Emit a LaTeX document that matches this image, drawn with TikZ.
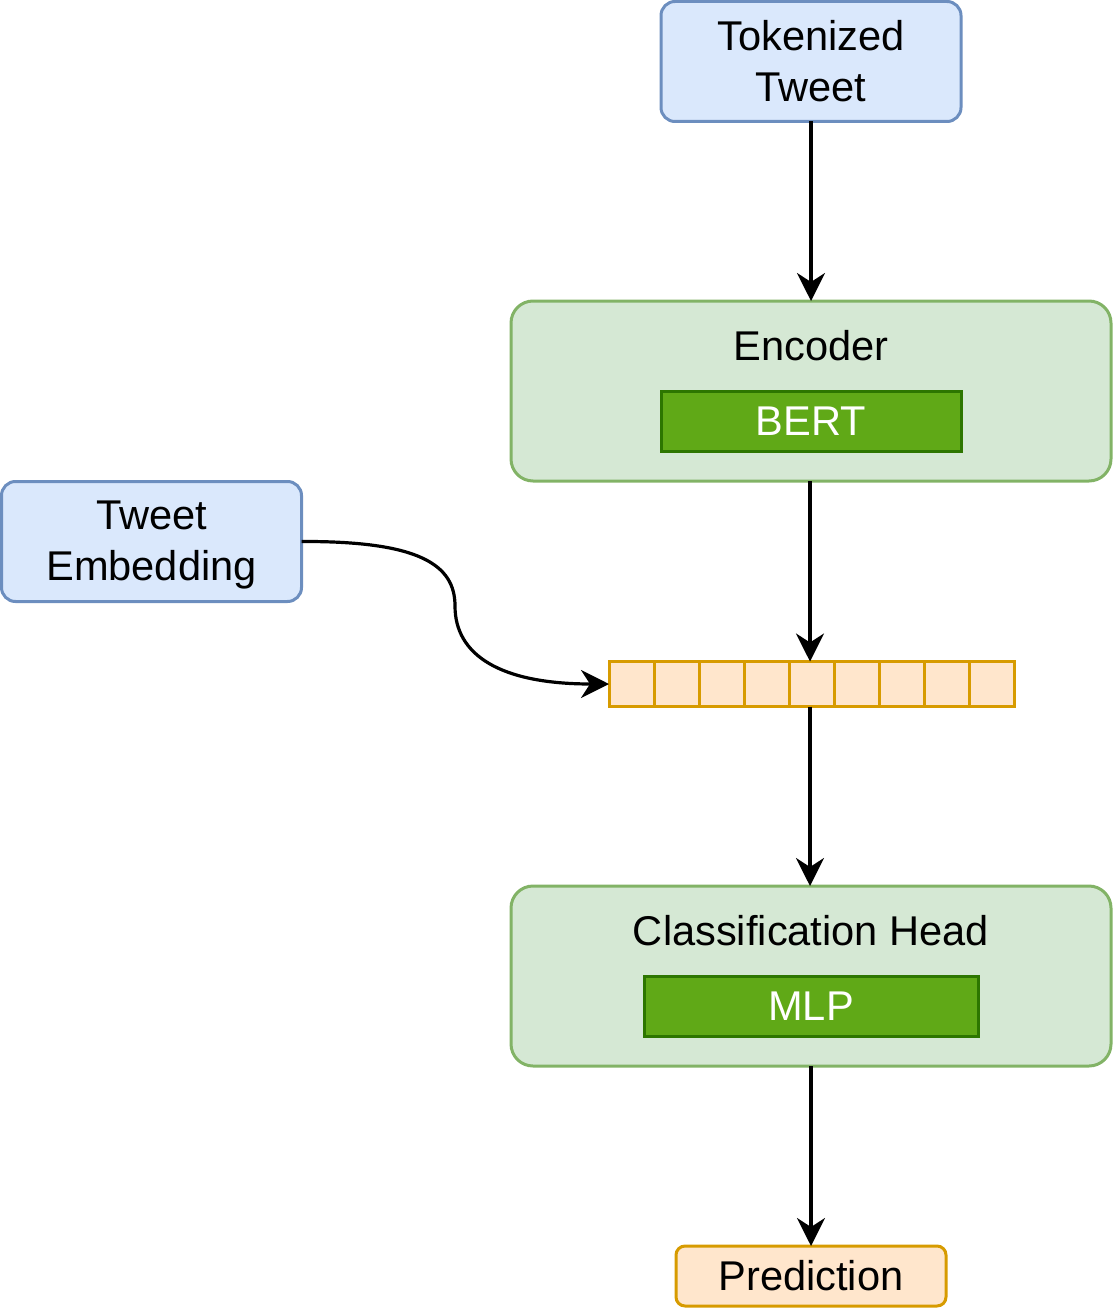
\documentclass[tikz,border=0pt]{standalone}
\usepackage{fontspec}
\setmainfont{Liberation Sans}
\usetikzlibrary{arrows.meta,positioning}
\definecolor{bluefill}{HTML}{DAE8FC}
\definecolor{bluedraw}{HTML}{6C8EBF}
\definecolor{greenfill}{HTML}{D5E8D4}
\definecolor{greendraw}{HTML}{82B366}
\definecolor{darkfill}{HTML}{60A917}
\definecolor{darkdraw}{HTML}{2D7600}
\definecolor{orfill}{HTML}{FFE6CC}
\definecolor{ordraw}{HTML}{D79B00}
\tikzset{
  base/.style={inner sep=0pt, outer sep=0pt, line width=3pt, font=\fontsize{41.6}{51}\selectfont, align=center},
  bluebox/.style={base, draw=bluedraw, fill=bluefill, rounded corners=14pt},
  greenbox/.style={base, draw=greendraw, fill=greenfill, rounded corners=22pt},
  darkbox/.style={base, draw=darkdraw, fill=darkfill, text=white},
  orbox/.style={base, draw=ordraw, fill=orfill, rounded corners=9pt},
  cellbox/.style={base, draw=ordraw, fill=orfill, minimum width=45pt, minimum height=45pt},
  conn/.style={line width=3.2pt, -{Stealth[length=28pt,width=28pt,inset=9pt]}},
  lbl/.style={inner sep=0pt, font=\fontsize{41.6}{51}\selectfont}
}
\begin{document}
\begin{tikzpicture}[x=1pt,y=-1pt]
\useasboundingbox (0,0) rectangle (1113,1308);
% Tokenized tweet
\node[bluebox, minimum width=300pt, minimum height=120pt] (tok) at (811,61.5) {Tokenized\\Tweet};
% Encoder
\node[greenbox, minimum width=600pt, minimum height=180pt] (enc) at (811,391) {};
\node[lbl] (enclbl) at (811,346) {Encoder};
\node[darkbox, minimum width=300pt, minimum height=60pt] (bert) at (811,421) {BERT};
% Tweet embedding
\node[bluebox, minimum width=300pt, minimum height=120pt] (emb) at (151.5,541.5) {};
\node[lbl, align=center] (emblbl) at (151.5,545) {Tweet\\Embedding};
% vector
\foreach \i in {0,...,8} {
  \node[cellbox] (c\i) at ({631.5+45*\i},684) {};
}
\coordinate (vw) at (609,684);
% classification head
\node[greenbox, minimum width=600pt, minimum height=180pt] (cls) at (811,976) {};
\node[lbl] (clslbl) at (811,931) {Classification Head};
\node[darkbox, minimum width=334pt, minimum height=60pt] (mlp) at (811,1006) {MLP};
% prediction
\node[orbox, minimum width=270pt, minimum height=60pt] (pred) at (811,1276) {Prediction};
% connectors
\draw[conn] (tok.south) -- (enc.north);
\draw[conn] (810,481) -- (c4.north -| 810,0);
\draw[conn] (c4.south -| 810,0) -- (810,886);
\draw[conn] (cls.south) -- (pred.north);
\draw[conn] (emb.east) .. controls (420,541) and (455,565) .. (455,606)
  .. controls (455,655) and (500,684) .. (vw);
\end{tikzpicture}
\end{document}
